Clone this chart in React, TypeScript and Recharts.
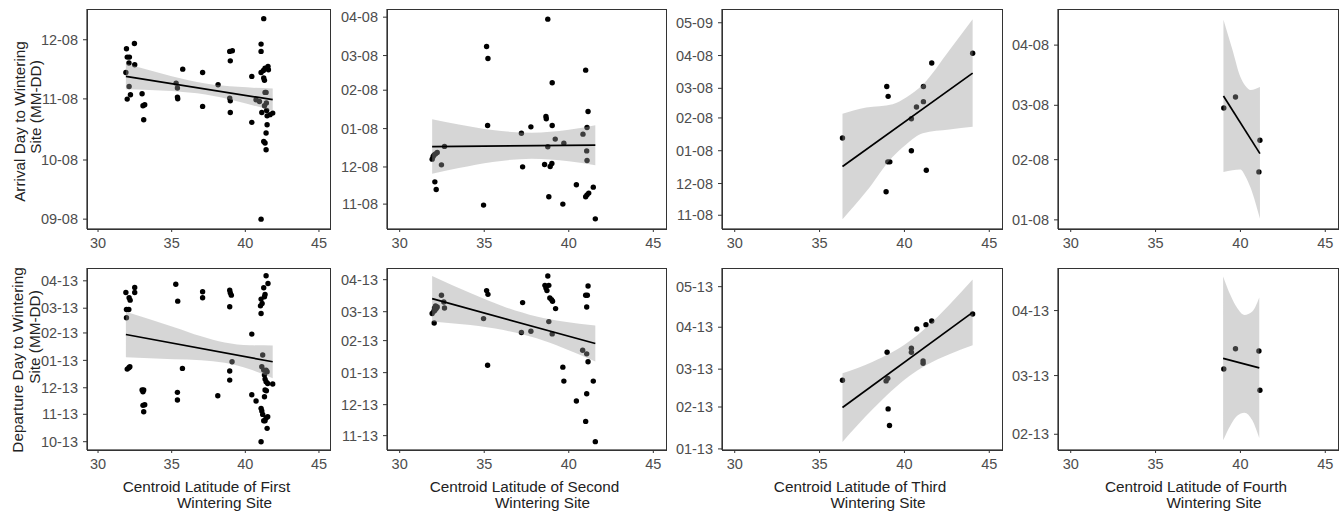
import { ComposedChart, Scatter, Line, Area, XAxis, YAxis } from "recharts"

// all y values are days after 1 September (wintering season)
const BASE = Date.UTC(2018, 8, 1)
const DAY = 86400000

const toDay = (md: string) => {
  const [m, d] = md.split("-").map(Number)
  const year = m >= 7 ? 2018 : 2019
  return (Date.UTC(year, m - 1, d) - BASE) / DAY
}

const fmtDay = (v: number) => {
  const dt = new Date(BASE + Math.round(v) * DAY)
  const mm = String(dt.getUTCMonth() + 1).padStart(2, "0")
  const dd = String(dt.getUTCDate()).padStart(2, "0")
  return `${mm}-${dd}`
}

const latTicks = [30, 35, 40, 45]

// y tick labels
const arrTicks1 = ["09-08", "10-08", "11-08", "12-08"]
const arrTicks2 = ["11-08", "12-08", "01-08", "02-08", "03-08", "04-08"]
const arrTicks3 = ["11-08", "12-08", "01-08", "02-08", "03-08", "04-08", "05-09"]
const arrTicks4 = ["01-08", "02-08", "03-08", "04-08"]
const depTicks1 = ["10-13", "11-13", "12-13", "01-13", "02-13", "03-13", "04-13"]
const depTicks2 = ["11-13", "12-13", "01-13", "02-13", "03-13", "04-13"]
const depTicks3 = ["01-13", "02-13", "03-13", "04-13", "05-13"]
const depTicks4 = ["02-13", "03-13", "04-13"]

// [latitude, day]
const arrFirst = [
  [31.93, 93.4], [31.98, 89.2], [32.13, 89.2], [31.89, 81.4], [32.1, 86.2], [32.47, 96.1], [32.49, 85.3],
  [32.11, 74.3], [31.98, 67.9], [32.2, 70.1], [32.99, 70.6], [33.05, 64.5], [33.17, 65.0], [33.1, 57.4],
  [35.75, 83.1], [35.3, 76.0], [35.39, 73.5], [35.39, 68.9], [35.41, 68.1], [37.1, 81.4], [37.1, 64.2],
  [38.15, 75.2], [38.94, 92.1], [38.98, 87.3], [39.12, 92.4], [38.94, 68.4], [38.98, 67.0], [38.98, 61.1],
  [40.44, 79.4], [40.44, 56.1], [41.25, 108.7], [41.07, 95.8], [41.07, 92.1], [41.07, 81.4], [41.12, 61.1],
  [41.23, 82.4], [41.34, 83.6], [41.54, 84.5], [41.57, 82.8], [41.25, 78.6], [41.3, 77.4], [41.34, 71.3],
  [41.41, 71.3], [40.73, 67.6], [40.96, 66.7], [41.3, 64.5], [41.43, 65.9], [41.45, 62.1], [41.48, 59.4],
  [41.68, 60.0], [41.86, 60.8], [41.48, 54.9], [41.41, 50.7], [41.25, 46.4], [41.34, 45.6], [41.41, 42.2],
  [41.07, 7.0],
]
const arrSecond = [
  [31.92, 104.3], [31.98, 106.5], [32.04, 107.8], [32.12, 108.6], [32.22, 109.7], [32.65, 114.6], [32.47, 99.7],
  [32.08, 86.0], [32.16, 79.8], [34.96, 67.2], [35.14, 195.3], [35.22, 185.6], [35.2, 131.5], [37.2, 125.3],
  [37.27, 98.1], [37.76, 130.4], [38.76, 217.4], [38.65, 138.8], [38.67, 136.9], [39.02, 131.5], [39.02, 166.0],
  [39.2, 120.5], [38.76, 114.3], [38.57, 100.0], [38.9, 98.4], [39.0, 100.8], [38.82, 73.9], [39.71, 117.2],
  [39.65, 68.0], [41.0, 176.2], [41.14, 142.8], [41.08, 129.9], [40.84, 124.5], [41.06, 111.0], [41.08, 103.2],
  [40.45, 83.6], [41.0, 73.9], [41.08, 75.5], [41.18, 76.9], [41.45, 81.7], [41.57, 56.1],
]
const arrThird = [
  [36.35, 141.1], [38.96, 189.7], [39.04, 180.4], [38.92, 90.2], [39.02, 118.5], [39.14, 118.5], [40.41, 129.0],
  [40.41, 159.2], [40.71, 170.3], [41.12, 175.4], [41.12, 189.7], [41.29, 110.6], [41.61, 211.9], [44.02, 221.1],
]
const arrFourth = [[39.02, 186.6], [39.71, 192.3], [41.15, 170.0], [41.09, 153.7]]

const depFirst = [
  [31.89, 210.8], [32.11, 204.8], [32.18, 202.1], [31.93, 191.6], [32.09, 191.6], [31.93, 182.2], [32.49, 216.5],
  [32.49, 210.8], [31.98, 124.1], [32.09, 125.7], [32.16, 126.8], [32.99, 100.4], [33.05, 98.5], [33.1, 100.4],
  [33.05, 83.1], [33.17, 83.8], [33.1, 75.9], [35.28, 220.2], [35.41, 201.0], [35.73, 124.9], [35.39, 97.8],
  [35.39, 89.1], [37.1, 211.6], [37.1, 204.8], [38.13, 94.0], [38.94, 213.4], [38.98, 210.4], [39.05, 207.8],
  [38.94, 194.6], [38.94, 121.9], [38.94, 111.7], [39.1, 132.4], [40.44, 163.7], [40.44, 95.1], [40.73, 88.0],
  [41.41, 229.7], [41.54, 221.0], [41.25, 216.1], [41.34, 208.6], [41.3, 205.9], [41.07, 203.3], [41.14, 198.4],
  [41.03, 195.7], [41.07, 187.1], [41.18, 140.0], [41.12, 126.8], [41.25, 123.0], [41.41, 123.0], [41.48, 121.1],
  [41.3, 117.4], [41.34, 112.8], [41.41, 109.8], [41.52, 107.9], [41.86, 107.2], [41.34, 100.4], [41.43, 99.7],
  [41.3, 92.9], [41.07, 79.7], [41.12, 76.7], [41.18, 72.9], [41.25, 65.7], [41.34, 65.7], [41.41, 68.8],
  [41.52, 70.3], [41.48, 57.1], [41.07, 42.0],
]
const depSecond = [
  [31.92, 191.2], [32.02, 193.4], [32.08, 194.4], [32.16, 196.0], [32.22, 197.6], [32.06, 196.6], [32.12, 198.6],
  [32.47, 208.9], [32.61, 202.4], [32.65, 196.6], [32.04, 182.1], [34.96, 186.3], [35.14, 213.4], [35.22, 209.8],
  [35.2, 141.2], [37.2, 172.8], [37.27, 201.8], [37.76, 174.1], [38.76, 227.5], [38.59, 218.5], [38.65, 216.0],
  [38.71, 213.4], [38.82, 218.5], [38.88, 206.3], [38.98, 204.7], [39.04, 203.1], [39.22, 196.0], [38.82, 183.4],
  [39.02, 171.5], [39.65, 139.3], [39.71, 125.8], [40.45, 106.5], [41.14, 217.9], [41.0, 208.9], [41.1, 208.9],
  [41.06, 197.6], [40.82, 155.7], [41.06, 152.2], [41.14, 144.5], [41.45, 125.8], [41.06, 113.6], [41.0, 86.8],
  [41.57, 67.2],
]
const depThird = [
  [36.35, 184.8], [38.98, 205.5], [38.92, 184.3], [39.02, 186.2], [39.04, 163.6], [39.12, 151.3], [40.41, 208.4],
  [40.41, 205.5], [40.73, 222.7], [41.1, 199.1], [41.1, 197.3], [41.27, 225.9], [41.61, 228.6], [44.02, 233.8],
]
const depFourth = [[39.02, 196.1], [39.71, 205.8], [41.09, 204.7], [41.15, 186.0]]

// fitted lines [latitude, day]
const arrFit1 = [[31.89, 79.4], [41.86, 67.6]]
const arrFit2 = [[31.92, 114.5], [41.57, 115.6]]
const arrFit3 = [[36.35, 114.1], [44.02, 202.4]]
const arrFit4 = [[39.0, 192.8], [41.15, 163.1]]
const depFit1 = [[31.89, 163.3], [41.86, 132.4]]
const depFit2 = [[31.92, 205.6], [41.57, 162.2]]
const depFit3 = [[36.35, 164.6], [44.02, 235.0]]
const depFit4 = [[38.98, 201.2], [41.11, 196.7]]

// confidence bands [latitude, low, high]
const arrBand1 = [[31.89, 72.9, 85.9], [33.5, 72.5, 82.5], [35, 72.0, 79.5], [37.3, 70.2, 75.8], [39.5, 66.7, 74.1], [41.86, 61.9, 73.3]]
const arrBand2 = [[31.92, 92.5, 136.5], [33.5, 97.1, 132.3], [35.5, 102.0, 127.8], [37.8, 104.7, 125.7], [40, 102.7, 128.1], [41.57, 99.4, 131.8]]
const arrBand3 = [[36.35, 64.2, 164.0], [37.75, 90.4, 169.8], [39.31, 123.4, 173.0], [40.1, 135.0, 179.4], [41.08, 145.6, 191.4], [42.65, 149.0, 224.0], [44.02, 151.6, 253.2]]
const arrBand4 = [[39.0, 153.6, 232.0], [39.53, 154.6, 216.6], [40.0, 155.0, 202.6], [40.3, 151.4, 198.0], [40.6, 145.5, 195.9], [41.15, 129.6, 197.4]]
const depBand1 = [[31.89, 137.5, 189.1], [35.12, 135.2, 171.8], [37.0, 134.2, 161.2], [38.6, 131.2, 154.2], [40.3, 124.0, 151.0], [41.86, 113.9, 150.9]]
const depBand2 = [[31.92, 183.6, 227.6], [34.18, 180.0, 211.0], [36.14, 175.2, 198.0], [38.1, 167.3, 188.3], [39.67, 157.9, 183.5], [41.57, 144.7, 179.7]]
const depBand3 = [[36.35, 139.2, 190.0], [38.14, 163.5, 198.5], [40.29, 188.0, 213.6], [41.27, 195.9, 223.7], [42.65, 204.1, 240.7], [44.02, 210.7, 259.3]]
const depBand4 = [[38.98, 162.1, 240.3], [39.41, 169.2, 231.4], [39.81, 173.8, 225.2], [40.24, 175.3, 221.9], [40.7, 171.7, 223.5], [41.11, 163.2, 230.2]]

const cols = [
  { left: 87, right: 330 },
  { left: 387, right: 666 },
  { left: 722, right: 1002 },
  { left: 1058, right: 1338 },
]
const rows = [
  { top: 9, bottom: 229 },
  { top: 268, bottom: 450 },
]

const panels = [
  { row: 0, col: 0, points: arrFirst, fit: arrFit1, band: arrBand1, ticks: arrTicks1, domain: [2, 113.6] },
  { row: 0, col: 1, points: arrSecond, fit: arrFit2, band: arrBand2, ticks: arrTicks2, domain: [47.9, 225.6] },
  { row: 0, col: 2, points: arrThird, fit: arrFit3, band: arrBand3, ticks: arrTicks3, domain: [55, 263] },
  { row: 0, col: 3, points: arrFourth, fit: arrFit4, band: arrBand4, ticks: arrTicks4, domain: [124.3, 237.6] },
  { row: 1, col: 0, points: depFirst, fit: depFit1, band: depBand1, ticks: depTicks1, domain: [32.6, 238.5] },
  { row: 1, col: 1, points: depSecond, fit: depFit2, band: depBand2, ticks: depTicks2, domain: [59.1, 235.3] },
  { row: 1, col: 2, points: depThird, fit: depFit3, band: depBand3, ticks: depTicks3, domain: [133.2, 267.8] },
  { row: 1, col: 3, points: depFourth, fit: depFit4, band: depBand4, ticks: depTicks4, domain: [157.5, 244.3] },
]

const xTitles = ["First", "Second", "Third", "Fourth"]

const Dot = (props: any) => <circle cx={props.cx} cy={props.cy} r={2.7} fill="#000" />

function Panel({ p }: { p: any }) {
  const yw = 60
  const pad = 4
  const xh = 26
  const { left, right } = cols[p.col]
  const { top, bottom } = rows[p.row]
  const w = right - left
  const h = bottom - top
  const pts = p.points.map(([lat, day]: number[]) => ({ lat, day }))
  const fitData = p.fit.map(([lat, day]: number[]) => ({ lat, day }))
  const bandData = p.band.map(([lat, lo, hi]: number[]) => ({ lat, band: [lo, hi] }))
  return (
    <div style={{ position: "absolute", left: left - yw, top: top - pad }}>
      <ComposedChart width={w + yw + pad} height={h + pad + xh} margin={{ top: pad, right: pad, bottom: 0, left: 0 }}>
        <XAxis
          type="number"
          dataKey="lat"
          domain={[29.25, 45.75]}
          ticks={latTicks}
          interval={0}
          allowDataOverflow
          height={xh}
          tickSize={3}
          tickMargin={6}
          stroke="#000"
          tickLine={{ stroke: "#333" }}
          tick={{ fill: "#4d4d4d", fontSize: 14.5 }}
        />
        <YAxis
          type="number"
          domain={p.domain}
          ticks={p.ticks.map(toDay)}
          interval={0}
          allowDataOverflow
          width={yw}
          tickSize={4}
          tickMargin={5}
          tickFormatter={fmtDay}
          stroke="#000"
          tickLine={{ stroke: "#333" }}
          tick={{ fill: "#4d4d4d", fontSize: 14.5 }}
        />
        <Scatter data={pts} dataKey="day" shape={Dot} zIndex={50} isAnimationActive={false} />
        <Area data={bandData} dataKey="band" type="monotone" fill="#999999" fillOpacity={0.4} stroke="none" zIndex={100} isAnimationActive={false} />
        <Line data={fitData} dataKey="day" stroke="#000" strokeWidth={1.7} dot={false} zIndex={400} isAnimationActive={false} />
      </ComposedChart>
      <div
        style={{
          position: "absolute",
          left: yw,
          top: pad,
          width: w + 1,
          height: h + 1,
          border: "1px solid #333",
          boxSizing: "border-box",
          pointerEvents: "none",
        }}
      />
    </div>
  )
}

export default function App() {
  return (
    <div
      style={{
        position: "absolute",
        left: 0,
        top: 0,
        width: 1342,
        height: 513,
        background: "#fff",
        overflow: "hidden",
        fontFamily: '"Liberation Sans", Arial, sans-serif',
      }}
    >
      {panels.map((p, i) => (
        <Panel key={i} p={p} />
      ))}
      <svg width={1342} height={513} style={{ position: "absolute", left: 0, top: 0, pointerEvents: "none" }}>
        <g fill="#222" fontSize={15.3}>
          <text transform="translate(24.5,121.5) rotate(-90)" textAnchor="middle">Arrival Day to Wintering</text>
          <text transform="translate(41,107) rotate(-90)" textAnchor="middle">Site (MM-DD)</text>
          <text transform="translate(23,360) rotate(-90)" textAnchor="middle">Departure Day to Wintering</text>
          <text transform="translate(39.5,337) rotate(-90)" textAnchor="middle">Site (MM-DD)</text>
          {cols.map((c, i) => {
            const cx = (c.left + c.right) / 2 - 2
            return (
              <g key={i}>
                <text x={cx} y={492} textAnchor="middle">{`Centroid Latitude of ${xTitles[i]}`}</text>
                <text x={cx + 18} y={508} textAnchor="middle">Wintering Site</text>
              </g>
            )
          })}
        </g>
      </svg>
    </div>
  )
}
